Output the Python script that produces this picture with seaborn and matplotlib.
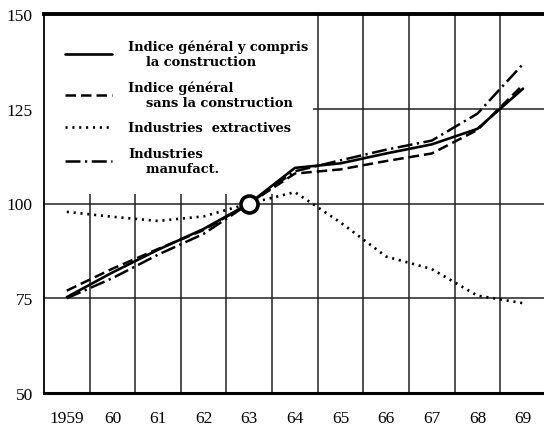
import pandas as pd
import matplotlib.pyplot as plt
import seaborn as sns
from matplotlib.patches import Rectangle

# Données (indice 1963 = 100)
annees = [1959, 1960, 1961, 1962, 1963, 1964, 1965, 1966, 1967, 1968, 1969]
general_avec = [75.3, 81.8, 87.8, 93.3, 100, 109.4, 110.6, 113.2, 115.6, 119.7, 130.3]
general_sans = [77.0, 82.8, 88.0, 93.0, 100, 107.9, 109.0, 111.2, 113.2, 119.4, 131.3]
extractives = [97.8, 96.5, 95.4, 96.6, 100, 103.0, 95.0, 86.0, 82.7, 75.7, 73.7]
manufact = [75.0, 80.3, 86.5, 92.0, 100, 108.5, 111.4, 114.2, 116.6, 123.7, 136.8]
annee_base = [1963]
valeur_base = [100]

x_labels = ["1959", "60", "61", "62", "63", "64", "65", "66", "67", "68", "69"]
y_ticks = [50, 75, 100, 125, 150]
labels = [
    "Indice général y compris\n    la construction",
    "Indice général\n    sans la construction",
    "Industries  extractives",
    "Industries\n    manufact.",
]

sns.set_theme(style="white")
plt.rcParams["font.family"] = ["Liberation Serif", "DejaVu Serif"]

df = pd.DataFrame({"annee": annees, "avec": general_avec, "sans": general_sans,
                   "extr": extractives, "manuf": manufact})

fig = plt.figure(figsize=(5.44, 4.31), dpi=100)
ax = fig.add_axes([44 / 544, 1 - 394 / 431, 1 - 44 / 544, (394 - 15) / 431])

# Grille : traits verticaux entre les années
ax.set_xticks(annees)
ax.set_xticks([a + 0.5 for a in annees], minor=True)
ax.set_yticks(y_ticks)
ax.set_axisbelow(True)
ax.grid(True, which="minor", axis="x", color="#222222", linewidth=1.1)
ax.grid(True, which="major", axis="y", color="#222222", linewidth=1.1)
ax.grid(False, which="major", axis="x")

# Cache de la grille derrière la légende
ax.add_patch(Rectangle((0, 0.525), 0.538, 0.475, transform=ax.transAxes,
                       facecolor="white", edgecolor="none", zorder=1))

sns.lineplot(data=df, x="annee", y="avec", ax=ax, color="black", linewidth=1.9,
             label=labels[0], zorder=3)
sns.lineplot(data=df, x="annee", y="sans", ax=ax, color="black", linewidth=1.8,
             linestyle=(0, (4.2, 2.0)), label=labels[1], zorder=3)
sns.lineplot(data=df, x="annee", y="extr", ax=ax, color="black", linewidth=1.9,
             linestyle=(0, (0.8, 1.8)), label=labels[2], zorder=3)
sns.lineplot(data=df, x="annee", y="manuf", ax=ax, color="black", linewidth=1.8,
             linestyle=(0, (6.0, 1.8, 0.9, 1.8)), label=labels[3], zorder=3)
sns.scatterplot(x=annee_base, y=valeur_base, ax=ax, s=150, color="white",
                edgecolor="black", linewidth=2.6, zorder=4)

ax.set_xlim(1958.5, 1969.46)
ax.set_ylim(50, 150)
ax.set_xlabel("")
ax.set_ylabel("")
ax.set_xticklabels(x_labels)
ax.tick_params(axis="x", which="both", length=0, pad=12, labelsize=12.5, colors="black")
ax.tick_params(axis="y", length=0, pad=8, labelsize=12.5, colors="black")

ax.spines["right"].set_visible(False)
ax.spines["left"].set_linewidth(1.3)
ax.spines["bottom"].set_linewidth(2.2)
ax.spines["top"].set_linewidth(2.8)
for s in ax.spines.values():
    s.set_color("black")

leg = ax.legend(loc="upper left", bbox_to_anchor=(0.042, 0.933), frameon=False,
                borderpad=0, borderaxespad=0, handlelength=3.6, handletextpad=1.25,
                labelspacing=0.95, labelcolor="black",
                prop={"family": "DejaVu Serif", "weight": "bold", "size": 9.4})

plt.savefig("out.png", dpi=100)
plt.close()
